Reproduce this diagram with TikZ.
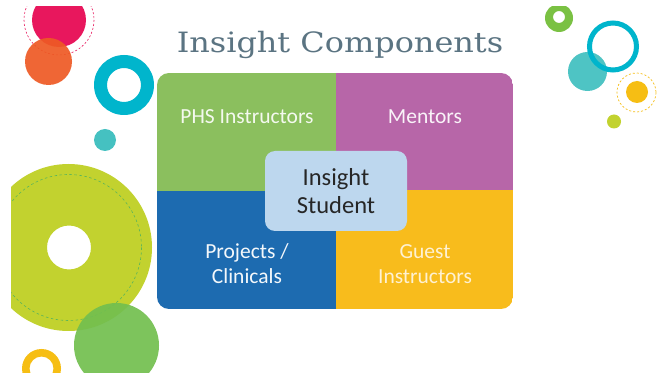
\documentclass[tikz,border=0pt]{standalone}
\usepackage{fontspec}
\setmainfont{Carlito}
\newfontfamily\titlefont{DejaVu Serif}
\begin{document}
\begin{tikzpicture}[x=1pt,y=-1pt,
  quad/.style={font=\fontsize{21.5}{25}\selectfont, align=center},
  ring/.style={even odd rule},
]
\definecolor{cMag}{HTML}{E8175D}
\definecolor{cOrange}{HTML}{EE5A24}
\definecolor{cCyan}{HTML}{00B5CC}
\definecolor{cTeal}{HTML}{45C1C1}
\definecolor{cLime}{HTML}{C2D22F}
\definecolor{cGreen}{HTML}{72BF4F}
\definecolor{cDashGreen}{HTML}{5BB55A}
\definecolor{cYellow}{HTML}{F6BE14}
\definecolor{cRingGreen}{HTML}{7AC143}
\definecolor{qGreen}{HTML}{8BBF5E}
\definecolor{qMag}{HTML}{B766A8}
\definecolor{qBlue}{HTML}{1D6BB0}
\definecolor{qYellow}{HTML}{F8BC1C}
\definecolor{qCenter}{HTML}{BDD7EE}
\definecolor{titleC}{HTML}{5B7482}
\useasboundingbox (0,0) rectangle (667,379);
\fill[white] (0,0) rectangle (667,379);
\begin{scope}
\clip (11,7) rectangle (667,373);
% top-left
\fill[cMag] (59,20) circle (27);
\draw[cMag, dashed, line width=0.6pt, dash pattern=on 2pt off 2pt] (59,20) circle (35);
\fill[cOrange, opacity=0.92] (48.5,61.5) circle (23.5);
\fill[cCyan, ring] (124,85) circle (30) (124,85) circle (17);
\fill[cTeal] (105,140) circle (11);
% left big lime
\fill[cLime, ring] (68.5,247.5) circle (83.5) (69,247.5) circle (22);
\draw[cDashGreen, dashed, line width=0.6pt, dash pattern=on 2.5pt off 2.5pt] (68.5,247.5) circle (73);
\fill[cGreen, opacity=0.92] (116.5,345.5) circle (42.5);
\fill[cYellow, ring] (41.5,368.5) circle (19.5) (41.5,368.5) circle (12);
% right side
\fill[cRingGreen, ring] (559,18) circle (14) (559,17) circle (6);
\fill[cTeal, opacity=0.95] (587.5,71.5) circle (19.5);
\draw[cCyan, line width=5pt] (613,46.5) circle (23.5);
\fill[cYellow] (637,92) circle (11);
\draw[cYellow, dashed, line width=0.7pt, dash pattern=on 2pt off 2pt] (636.5,92.5) circle (19.5);
\fill[cLime] (614,121.5) circle (7);
\end{scope}
% title
\node[font=\titlefont\fontsize{28}{32}\selectfont, text=titleC, anchor=base, xscale=1.14] (title) at (340,53) {Insight Components};
% quadrants
\begin{scope}
\clip[rounded corners=12] (157,73) rectangle (513,309);
\fill[qGreen] (157,73) rectangle (336,191);
\fill[qMag] (336,73) rectangle (513,190);
\fill[qBlue] (157,191) rectangle (336,309);
\fill[qYellow] (336,190) rectangle (513,309);
\end{scope}
\node[quad, text=white!90!qGreen] (phs) at (247,117) {PHS Instructors};
\node[quad, text=white!92!qMag] (mentors) at (425,117) {Mentors};
\node[quad, text=white!95!qBlue] (proj) at (247,264) {Projects /\\Clinicals};
\node[quad, text=white!80!qYellow] (guest) at (425,264) {Guest\\Instructors};
\node[fill=qCenter, rounded corners=10, minimum width=142, minimum height=80, inner sep=0pt,
  font=\fontsize{24.5}{28}\selectfont, align=center, text=black!85] (student) at (336,191) {Insight\\Student};
\end{tikzpicture}
\end{document}
